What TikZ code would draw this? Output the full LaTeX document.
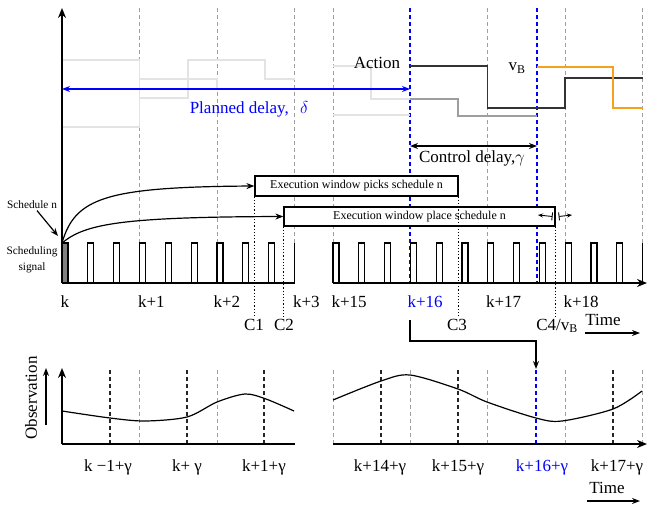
\documentclass[tikz,border=0pt]{standalone}
\usepackage{fontspec}
\setmainfont{Liberation Serif}
\usepackage{tikz}
\usetikzlibrary{arrows.meta}
\definecolor{stepgray}{gray}{0.89}
\definecolor{midgray}{gray}{0.62}
\definecolor{vborange}{RGB}{245,160,30}

\begin{document}
\begin{tikzpicture}[x=1pt,y=-1pt,>={Stealth[length=8pt,width=6pt]},line width=1.2pt]
% Define styles
\tikzstyle{lbl} = [font=\fontsize{17}{19}\selectfont, inner sep=1pt]
\tikzstyle{small} = [font=\fontsize{12}{16}\selectfont, inner sep=1pt]
\tikzstyle{side} = [font=\fontsize{11.3}{16}\selectfont, inner sep=1pt]
\tikzstyle{window} = [draw, fill=white, small, minimum height=20pt, inner sep=0pt]
\tikzstyle{grid} = [gray!75, line width=1pt, dash pattern=on 4pt off 3pt]
\tikzstyle{bgrid} = [black!85, line width=1.2pt, dash pattern=on 4pt off 3pt]
\tikzstyle{blueline} = [blue, line width=1.2pt, dash pattern=on 4pt off 3pt]
\tikzstyle{axis} = [-{Stealth[length=10pt,width=8pt]}, line width=1.4pt]
\useasboundingbox (0,0) rectangle (647,506);

% Grid of the upper panel
\foreach \x in {139.5,217,294.5,333,487.5,565,642.5}
  \draw[grid] (\x,8) -- (\x,283);
\foreach \x in {410,537}
  \draw[blueline] (\x,8) -- (\x,283);

% Planned and applied actions
\draw[stepgray] (62,60) -| (139.5,98) -| (188,60) -| (265,79) -- (294.5,79);
\draw[stepgray] (62,127) -| (139.5,79) -| (217,89) -- (294.5,89);
\draw[stepgray] (333,66) -| (371,99) -- (410,99);
\draw[stepgray] (333,115) -- (410,115);
\draw[midgray] (410,99) -| (458,116) -- (537,116);
\draw[black!80] (410,66) -| (487.5,108) -| (565,78) -- (642.5,78);
\draw[vborange, line width=1.4pt] (537,67) -| (613,108) -- (642.5,108);

% Define nodes
\node[lbl] (action) at (377,63) {Action};
\node[lbl] (vb) at (517,68) {v\textsubscript{B}};
\coordinate (plan0) at (62,89);
\coordinate (plan1) at (410,89);
\node[lbl, blue] (planned) at (249,109) {Planned delay, \ \,$\delta$};
\coordinate (ctrl0) at (410,146);
\coordinate (ctrl1) at (537,146);
\node[lbl] (control) at (472,158) {Control delay,$\gamma$};
\node[window, minimum width=203pt] (pick) at (356.5,186) {Execution window picks schedule n};
\node[window, minimum width=271pt, minimum height=19pt] (place) at (419.5,216.5) {Execution window place schedule n};
\coordinate (sched) at (62,243);
\node[side] (schedn) at (32,205) {Schedule n};
\node[side, align=center] (signal) at (32,260) {Scheduling\\signal};
\coordinate (c4l) at (538,215);
\coordinate (c4r) at (572,215);

% Scheduling signal
\fill[gray] (62,243) rectangle (67,283);
\foreach \i in {0,...,8}
  \draw ({62+25.83*\i},283) -- ++(0,-40) -- ++(6,0) -- ++(0,40);
\draw (294.5,243) -- (294.5,283);
\foreach \i in {0,...,11}
  \draw ({333+25.79*\i},283) -- ++(0,-40) -- ++(6,0) -- ++(0,40);
\draw (642.5,243) -- (642.5,283);
\draw[axis] (62,283) -- (62,8);
\draw[line width=1.4pt] (62,283) -- (294.5,283);
\draw[axis] (333,283) -- (647,283);

% Time labels
\node[lbl, anchor=west] (k0) at (59,302) {k};
\node[lbl, anchor=west] (k1) at (136.5,302) {k+1};
\node[lbl, anchor=west] (k2) at (212,302) {k+2};
\node[lbl, anchor=west] (k3) at (291.5,302) {k+3};
\node[lbl, anchor=west] (k15) at (330,302) {k+15};
\node[lbl, anchor=west, blue] (k16) at (406,302) {k+16};
\node[lbl, anchor=west] (k17) at (484.5,302) {k+17};
\node[lbl, anchor=west] (k18) at (562,302) {k+18};
\node[lbl] (c1) at (254,325) {C1};
\node[lbl] (c2) at (284,325) {C2};
\node[lbl] (c3) at (457,325) {C3};
\node[lbl] (c4) at (557,326) {C4/v\textsubscript{B}};
\node[lbl] (time1) at (603,320) {Time};
\coordinate (tarr0) at (585,333);
\coordinate (tarr1) at (640,333);
\coordinate (k16base) at (410,320);
\coordinate (obs16) at (536,369);

% Connect the nodes
\draw[<->, blue] (plan0) -- (plan1);
\draw[<->] (ctrl0) -- (ctrl1);
\draw[->] (sched) .. controls (75,198) and (105,187) .. (pick.west);
\draw[->] (sched) .. controls (85,224) and (120,217) .. (place.west);
\draw[->] ([xshift=5pt]schedn.south) -- ([shift={(-4,-7)}]sched);
\draw[dotted] (pick.south west) -- (pick.south west |- c1.north);
\draw[dotted] (place.south west) -- (place.south west |- c2.north);
\draw[dotted] (pick.south east) -- (pick.south east |- c3.north);
\draw[dotted] (place.south east) -- (place.south east |- c4.north);
\draw[{Bar[width=8pt]}-{Stealth[length=5pt,width=4pt]}, line width=0.9pt] ([xshift=-3pt]place.east) -- (c4l);
\draw[{Bar[width=8pt]}-{Stealth[length=5pt,width=4pt]}, line width=0.9pt] ([xshift=3pt]place.east) -- (c4r);
\draw[->] (tarr0) -- (tarr1);
\draw[->, line width=1.3pt] (k16base) |- (536,341) -- (obs16);

% Observation panel
\foreach \x in {139.5,217,333,410,487.5,565,642.5}
  \draw[grid] (\x,370) -- (\x,444);
\foreach \x in {110,187,264,381,458,613}
  \draw[bgrid] (\x,370) -- (\x,444);
\draw[blueline] (536,370) -- (536,444);
\draw plot[smooth] coordinates {(62,411) (110,418) (145,421) (187,417) (217,402) (245,394) (266,399) (294,411)};
\draw plot[smooth] coordinates {(333,400) (381,381) (410,375) (458,389) (487,402) (536,418) (562,421) (613,409) (642,391)};
\draw[axis] (62,444) -- (62,368);
\draw[line width=1.4pt] (62,444) -- (294.5,444);
\draw[axis] (333,444) -- (647,444);
\node[lbl, rotate=90] (obs) at (31,398) {Observation};
\coordinate (oarr0) at (46,425);
\coordinate (oarr1) at (46,368);
\draw[->] (oarr0) -- (oarr1);
\node[lbl] (g0) at (108,467) {k −1+γ};
\node[lbl] (g1) at (187,467) {k+ γ};
\node[lbl] (g2) at (264,467) {k+1+γ};
\node[lbl] (g14) at (380,467) {k+14+γ};
\node[lbl] (g15) at (458,467) {k+15+γ};
\node[lbl, blue] (g16) at (542,467) {k+16+γ};
\node[lbl] (g17) at (617,467) {k+17+γ};
\node[lbl] (time2) at (607,488) {Time};
\coordinate (barr0) at (587,501);
\coordinate (barr1) at (640,501);
\draw[->] (barr0) -- (barr1);

\end{tikzpicture}
\end{document}
